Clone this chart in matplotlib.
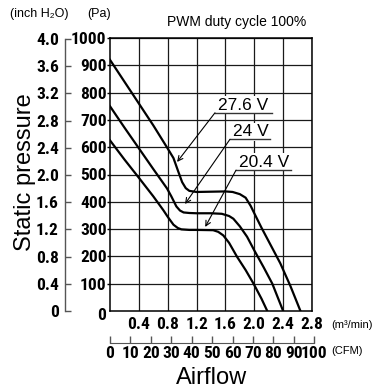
import matplotlib
matplotlib.use("Agg")
import matplotlib.pyplot as plt

# ---------------- data ----------------
x_276 = [0, 0.2, 0.4, 0.6, 0.8, 0.88, 0.95, 1.0, 1.05, 1.1, 1.2, 1.4, 1.6, 1.7, 1.8, 1.88, 1.95, 2.0, 2.1, 2.2, 2.36, 2.5, 2.64]
y_276 = [920, 840, 760, 680, 595, 560, 508, 472, 450, 440, 436, 437, 438, 436, 428, 415, 385, 358, 305, 255, 175, 92, 0]

x_240 = [0, 0.2, 0.4, 0.6, 0.79, 0.85, 0.92, 0.97, 1.02, 1.1, 1.2, 1.4, 1.55, 1.65, 1.71, 1.8, 1.9, 2.0, 2.13, 2.25, 2.40]
y_240 = [750, 672, 596, 520, 449, 420, 383, 368, 361, 359, 358, 358, 356, 348, 338, 310, 272, 222, 160, 100, 0]

x_204 = [0, 0.2, 0.4, 0.6, 0.74, 0.8, 0.88, 0.94, 0.99, 1.1, 1.2, 1.43, 1.5, 1.57, 1.65, 1.76, 1.88, 1.99, 2.1, 2.18]
y_204 = [625, 555, 488, 420, 369, 345, 316, 304, 299, 297, 297, 296, 290, 277, 250, 199, 150, 100, 45, 0]

series_labels = ["27.6 V", "24 V", "20.4 V"]
pa_ticks = [100, 200, 300, 400, 500, 600, 700, 800, 900, 1000]
inch_ticks = [0, 0.4, 0.8, 1.2, 1.6, 2.0, 2.4, 2.8, 3.2, 3.6, 4.0]
m3_ticks = [0.4, 0.8, 1.2, 1.6, 2.0, 2.4, 2.8]
cfm_ticks = [0, 10, 20, 30, 40, 50, 60, 70, 80, 90, 100]

# ---------------- style ----------------
NARROW = ['Roboto Condensed', 'DejaVu Sans']
NW = 'semibold'
NS = 12.5
REG = ['Liberation Sans', 'DejaVu Sans']
W, H = 388, 391
fig = plt.figure(figsize=(W / 100, H / 100), dpi=100)

def box(x0, y0, x1, y1):
    return [x0 / W, 1 - y1 / H, (x1 - x0) / W, (y1 - y0) / H]

ax = fig.add_axes(box(110, 38, 312, 311))
ax.set_xlim(0, 2.8)
ax.set_ylim(0, 1000)
ax.set_xticks(m3_ticks)
ax.set_xticklabels([f"{v:.1f}" for v in m3_ticks], family=NARROW, fontsize=NS, fontweight=NW)
ax.set_yticks(pa_ticks)
ax.set_yticklabels([str(v) for v in pa_ticks], family=NARROW, fontsize=NS, fontweight=NW)
ax.tick_params(axis='x', length=0, pad=4)
ax.tick_params(axis='y', length=2, width=1, pad=0.5)
ax.grid(True, color='#1a1a1a', linewidth=0.9)
ax.set_axisbelow(True)
for s in ax.spines.values():
    s.set_linewidth(1.1)

for xs, ys in [(x_276, y_276), (x_240, y_240), (x_204, y_204)]:
    ax.plot(xs, ys, color='black', linewidth=1.6, solid_joinstyle='round', zorder=3)

# shared origin "0"
ax.annotate("0", xy=(0, 0), xytext=(-6, -3), textcoords='offset points',
            ha='center', va='center', family=NARROW, fontsize=NS, fontweight=NW,
            annotation_clip=False)

# annotations: (label, text x, baseline y, underline x0, x1, underline y, arrow tip)
ann = [
    (series_labels[0], 1.84, 738, 1.455, 2.24, 726, (0.93, 546)),
    (series_labels[1], 1.95, 640, 1.663, 2.218, 629, (1.04, 392)),
    (series_labels[2], 2.135, 528, 1.747, 2.505, 516, (1.32, 308)),
]
for lab, tx, ty, ux0, ux1, uy, tip in ann:
    ax.text(tx, ty, lab, ha='center', va='baseline', family=REG, fontsize=12.5,
            zorder=4, bbox=dict(facecolor='white', edgecolor='none', pad=1.0))
    ax.plot([ux0, ux1], [uy, uy], color='#333333', linewidth=1.0, zorder=5)
    ax.annotate("", xy=tip, xytext=(ux0, uy),
                arrowprops=dict(arrowstyle='->', color='black', lw=0.8,
                                shrinkA=0, shrinkB=0, mutation_scale=9), zorder=5)

# inch H2O axis
axi = fig.add_axes(box(64.5, 39, 64.6, 311))
axi.set_ylim(0, 4.0)
axi.set_xticks([])
axi.set_yticks(inch_ticks)
axi.set_yticklabels([("0" if v == 0 else f"{v:.1f}") for v in inch_ticks], family=NARROW, fontsize=NS, fontweight=NW)
axi.tick_params(axis='y', direction='in', length=4, width=1, pad=4, color='#555555')
for k in ['top', 'right', 'bottom']:
    axi.spines[k].set_visible(False)
axi.spines['left'].set_color('#555555')
axi.spines['left'].set_linewidth(1.0)
axi.patch.set_visible(False)

# CFM axis
cfm_px = 202 * (100 / 35.3147) / 2.8
axc = fig.add_axes(box(110, 338, 110 + cfm_px, 343))
axc.set_xlim(0, 100)
axc.set_yticks([])
axc.set_xticks(cfm_ticks)
axc.set_xticklabels([str(v) for v in cfm_ticks], family=NARROW, fontsize=NS, fontweight=NW)
axc.tick_params(axis='x', direction='in', length=5, width=1, pad=2, color='#555555')
for k in ['top', 'right', 'left']:
    axc.spines[k].set_visible(False)
axc.spines['bottom'].set_color('#555555')
axc.patch.set_visible(False)

# texts
fig.text(10 / W, 1 - 14 / H, "(inch H₂O)", family=REG, fontsize=9, va='center', ha='left')
fig.text(87 / W, 1 - 14 / H, "(Pa)", family=REG, fontsize=9, va='center', ha='left')
fig.text(237 / W, 1 - 22 / H, "PWM duty cycle 100%", family=REG, fontsize=10, va='center', ha='center')
fig.text(331 / W, 1 - 325 / H, "(m³/min)", family=REG, fontsize=8, va='center', ha='left')
fig.text(331 / W, 1 - 351 / H, "(CFM)", family=REG, fontsize=8, va='center', ha='left')
fig.text(212 / W, 1 - 378 / H, "Airflow", family=REG, fontsize=17, va='center', ha='center')
fig.text(25 / W, 1 - 172 / H, "Static pressure", family=REG, fontsize=17, va='center', ha='center', rotation=90)

fig.savefig("out.png", dpi=100)
